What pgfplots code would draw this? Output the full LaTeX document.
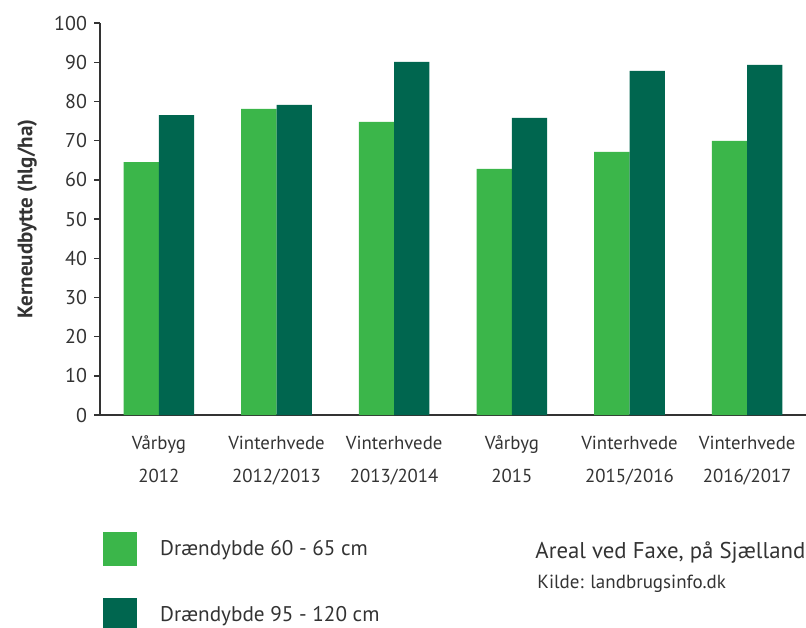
\documentclass[border=0pt]{standalone}
\usepackage{fontspec}
\setmainfont{PT Sans}
\usepackage{pgfplots}
\pgfplotsset{compat=1.18}
\definecolor{lightg}{HTML}{3BB64A}
\definecolor{darkg}{HTML}{00664F}
\definecolor{txt}{HTML}{333333}
\begin{document}
\begin{tikzpicture}
\path[use as bounding box] (0,0) rectangle (403pt,313.5pt);
\begin{axis}[
  at={(50pt,106pt)}, anchor=south west,
  scale only axis, width=353pt, height=196pt,
  xmin=-0.5, xmax=5.5, ymin=0, ymax=100,
  ybar=0pt, bar width=0.3,
  axis x line*=bottom, axis y line*=left,
  axis line style={txt, line width=0.7pt, -},
  ytick={0,10,...,100}, tick align=outside, major tick length=3pt,
  ytick style={txt, line width=0.7pt},
  xtick={0,...,5}, xtick style={draw=none},
  xticklabels={{Vårbyg\\2012},{Vinterhvede\\2012/2013},{Vinterhvede\\2013/2014},{Vårbyg\\2015},{Vinterhvede\\2015/2016},{Vinterhvede\\2016/2017}},
  xticklabel style={align=center, font=\fontsize{9.4}{16.5}\selectfont, text=txt, yshift=-4pt},
  yticklabel style={font=\fontsize{10}{12}\selectfont, text=txt},
  /pgf/number format/assume math mode=true,
  ylabel={Kerneudbytte (hlg/ha)},
  ylabel style={font=\bfseries\fontsize{10.5}{12}\selectfont, text=txt, at={(axis description cs:-0.103,0.5)}, anchor=center},
  legend style={at={(axis description cs:0.004,-0.298)}, anchor=north west, draw=none, fill=none, inner sep=0pt, row sep=16pt, column sep=9.5pt, font=\fontsize{10.6}{12}\selectfont, text=txt},
  legend cell align=left,
  legend image code/.code={\fill[#1,draw=none] (0pt,-8.5pt) rectangle (17pt,8.5pt);},
]
\addplot[fill=lightg, draw=none] coordinates {(0,64.5) (1,78.1) (2,74.8) (3,62.8) (4,67.1) (5,69.9)};
\addplot[fill=darkg, draw=none] coordinates {(0,76.5) (1,79.1) (2,90.1) (3,75.8) (4,87.8) (5,89.3)};
\legend{Drændybde 60 - 65 cm, Drændybde 95 - 120 cm}
\end{axis}
\node[anchor=base west, font=\fontsize{11.4}{13}\selectfont, text=txt, inner sep=0pt] at (267.5pt,34.5pt) {Areal ved Faxe, på Sjælland};
\node[anchor=base west, font=\fontsize{9.5}{11}\selectfont, text=txt, inner sep=0pt] at (268.5pt,19.5pt) {Kilde: landbrugsinfo.dk};
\end{tikzpicture}
\end{document}
